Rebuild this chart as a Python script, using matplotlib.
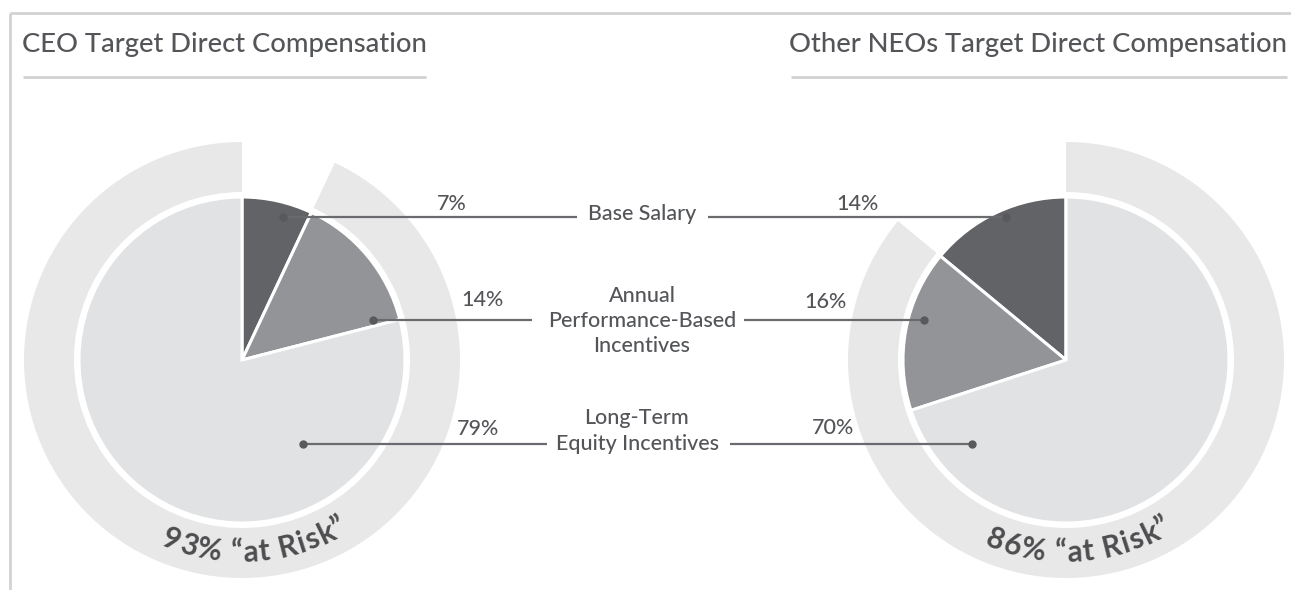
import numpy as np
import matplotlib
matplotlib.use("Agg")
import matplotlib.pyplot as plt
from matplotlib.font_manager import FontProperties
from matplotlib.textpath import TextToPath

# ---------------- data ----------------
categories = ["Base Salary", "Annual\nPerformance-Based\nIncentives", "Long-Term\nEquity Incentives"]
ceo_values = [7, 14, 79]
neo_values = [14, 16, 70]
at_risk = [93, 86]
titles = ["CEO Target Direct Compensation", "Other NEOs Target Direct Compensation"]

# ---------------- style ----------------
W, H = 1291, 590
FONT = "Lato"
TXT = "#545558"
SLICE_COLORS = ["#626367", "#939498", "#e1e2e3"]
RING = "#e8e8e8"
LINE = "#6a6b6e"
FRAME = "#d2d2d2"

fig = plt.figure(figsize=(W / 100, H / 100), dpi=100)
ax = fig.add_axes([0, 0, 1, 1])


def Y(y):  # pixel-from-top -> data y
    return H - y


centers = [(242, Y(360)), (1066, Y(360))]
R_PIE = 163
R_RING_OUT = 218
R_RING_W = 50
counter = [False, True]
values = [ceo_values, neo_values]

for c, vals, ccw, risk in zip(centers, values, counter, at_risk):
    ax.pie([100 - risk, risk], startangle=90, counterclock=ccw, center=c,
           radius=R_RING_OUT, colors=["none", RING],
           wedgeprops=dict(width=R_RING_W, linewidth=0))
    ax.pie(vals, startangle=90, counterclock=ccw, center=c, radius=R_PIE,
           colors=SLICE_COLORS,
           wedgeprops=dict(edgecolor="white", linewidth=2.2))

# ---------------- leaders ----------------
lead_y = [217, 320, 444]
left_dot_x = [283, 373, 303]
left_end_x = [577, 532, 547]
right_start_x = [708, 744, 730]
right_dot_x = [1006, 924, 972]
for i in range(3):
    y = Y(lead_y[i])
    ax.plot([left_dot_x[i], left_end_x[i]], [y, y], color=LINE, lw=1.6, zorder=5,
            solid_capstyle="butt")
    ax.plot([right_start_x[i], right_dot_x[i]], [y, y], color=LINE, lw=1.6, zorder=5,
            solid_capstyle="butt")
    ax.plot([left_dot_x[i], right_dot_x[i]], [y, y], ls="none", marker="o", ms=5,
            color="#58595b", zorder=6)

# category labels
cat_x = [642, 642, 637]
cat_y = [214, 321, 431]
for lab, x, y in zip(categories, cat_x, cat_y):
    ax.text(x, Y(y), lab, ha="center", va="center", fontsize=15.5, family=FONT,
            weight=500, color=TXT, linespacing=1.32, zorder=7)

# percent labels
lpx = [452, 482, 478]
lpy = [204, 300, 429]
rpx = [857, 825, 833]
rpy = [204, 302, 428]
for i in range(3):
    ax.text(lpx[i], Y(lpy[i]), f"{ceo_values[i]}%", ha="center", va="center",
            fontsize=15.5, family=FONT, weight=500, color=TXT, zorder=7)
    ax.text(rpx[i], Y(rpy[i]), f"{neo_values[i]}%", ha="center", va="center",
            fontsize=15.5, family=FONT, weight=500, color=TXT, zorder=7)

# ---------------- titles & frame ----------------
ax.text(22, Y(52), titles[0], ha="left", va="baseline", fontsize=19.7, family=FONT,
        weight=500, color=TXT)
ax.text(1287, Y(52), titles[1], ha="right", va="baseline", fontsize=19.7, family=FONT,
        weight=500, color=TXT)
ax.plot([23, 426], [Y(77), Y(77)], color=FRAME, lw=2, solid_capstyle="butt")
ax.plot([791, 1287], [Y(77), Y(77)], color=FRAME, lw=2, solid_capstyle="butt")
ax.plot([10, W], [Y(13), Y(13)], color=FRAME, lw=2, solid_capstyle="butt")
ax.plot([10, 10], [Y(13), 0], color=FRAME, lw=2, solid_capstyle="butt")

# ---------------- curved "at Risk" text ----------------
t2p = TextToPath()


def curved_text(text, center, radius, mid_deg, size_pt, tracking=1.5):
    fp = FontProperties(family=FONT, weight="bold", size=size_pt)
    px_per_pt = 100 / 72

    def width(s):
        if not s:
            return 0.0
        w, h, d = t2p.get_text_width_height_descent(s, fp, ismath=False)
        return w * px_per_pt

    n = len(text)
    total = width(text) + tracking * (n - 1)
    for i, ch in enumerate(text):
        w0 = width(text[:i]) + tracking * i
        wc = width(text[: i + 1]) - width(text[:i])
        s = w0 + wc / 2 - total / 2
        th = np.deg2rad(mid_deg) + s / radius
        x = center[0] + radius * np.cos(th)
        y = center[1] + radius * np.sin(th)
        ax.text(x, y, ch, fontproperties=fp, color="#4d4d50", ha="center",
                va="baseline", rotation=np.rad2deg(th) + 90,
                rotation_mode="anchor", zorder=8)


for c, risk in zip(centers, at_risk):
    curved_text(f"{risk}% \u201cat Risk\u201d", c, 202, 274, 21.5)

ax.set_xlim(0, W)
ax.set_ylim(0, H)
ax.set_aspect("auto")
ax.axis("off")
fig.savefig("out.png", dpi=100)
